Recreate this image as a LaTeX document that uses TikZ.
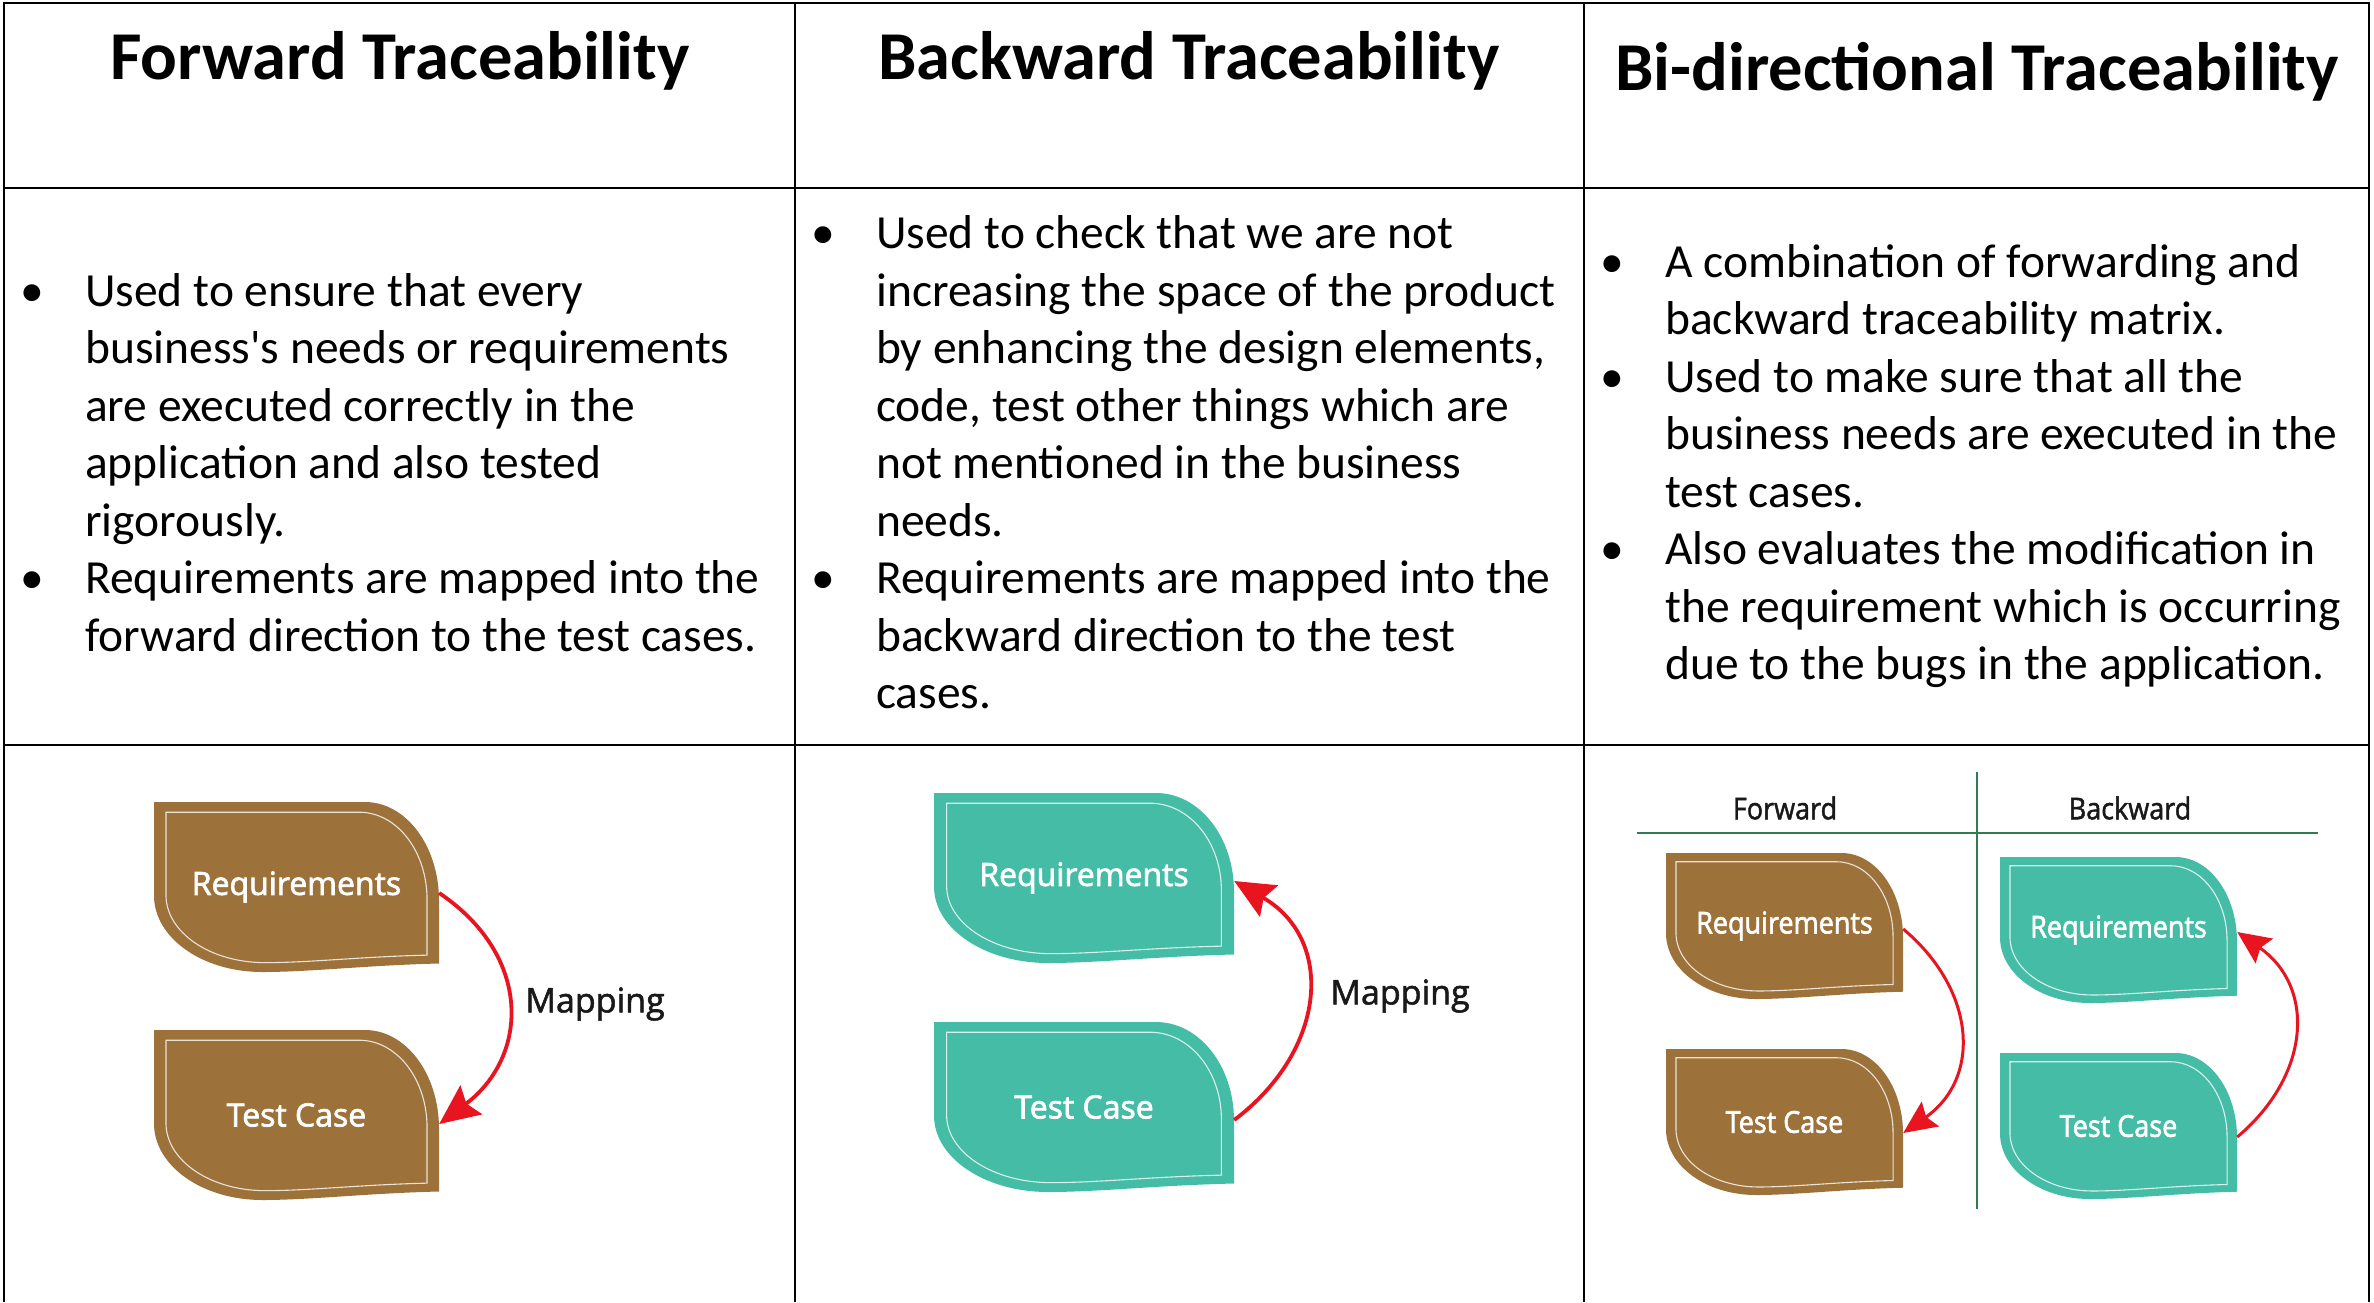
\documentclass[tikz,border=0pt]{standalone}
\usepackage{fontspec}
\setmainfont{Carlito}
\newfontfamily\lblfont{Open Sans}[FakeBold=2.2]
\newfontfamily\maplblfont{Open Sans}[FakeBold=1.6]
\usetikzlibrary{arrows.meta}
\definecolor{leafbrown}{HTML}{9D723A}
\definecolor{leafteal}{HTML}{45BDA6}
\definecolor{maparrow}{HTML}{E8141F}
\definecolor{divgreen}{HTML}{2E7D50}
\newcommand\narrowtxt[1]{\scalebox{0.9}[1]{#1}}
\tikzset{
  tableline/.style={line width=2.5pt, black},
  headtxt/.style={anchor=base, inner sep=0pt, font=\bfseries\fontsize{68.5}{80}\selectfont},
  celltxt/.style={anchor=west, inner sep=0pt, font=\fontsize{47.5}{57.5}\selectfont},
  leafbox/.style={rectangle, inner sep=0pt, text=white},
  biglbl/.style={font=\lblfont\fontsize{32}{38}\selectfont},
  smalllbl/.style={font=\lblfont\fontsize{30}{36}\selectfont},
  maplabel/.style={inner sep=0pt, text=black!90, font=\maplblfont\fontsize{34}{40}\selectfont},
  dirlabel/.style={inner sep=0pt, text=black!90, font=\maplblfont\fontsize{30}{36}\selectfont},
  bigmap/.style={maparrow, line width=3.8pt, -{Stealth[length=40pt,width=36pt,inset=6pt]}},
  smallmap/.style={maparrow, line width=3pt, -{Stealth[length=33pt,width=30pt,inset=5pt]}},
  greenline/.style={divgreen, line width=2.5pt},
}
% #1 name, #2 left, #3 top, #4 width, #5 height, #6 colour, #7 label style, #8 text
\newcommand\leaf[8]{%
  \begin{scope}[shift={(#2,#3)}, x=#4pt, y=-#5pt]
    \fill[#6] (0,0) -- (0.74,0) .. controls (0.885,0) and (1,0.26) .. (1,0.58)
      -- (1,0.95) .. controls (0.75,0.96) and (0.55,1) .. (0.38,1)
      .. controls (0.17,1) and (0,0.8) .. (0,0.55) -- cycle;
    \begin{scope}[shift={(0.042,0.06)}, xscale=0.916, yscale=0.885]
      \draw[white!80!#6, line width=1.1pt] (0,0) -- (0.74,0) .. controls (0.885,0) and (1,0.26) .. (1,0.58)
        -- (1,0.95) .. controls (0.75,0.96) and (0.55,1) .. (0.38,1)
        .. controls (0.17,1) and (0,0.8) .. (0,0.55) -- cycle;
    \end{scope}
  \end{scope}
  \node[leafbox, #7, minimum width=#4pt, minimum height=#5pt] (#1) at ({#2+#4/2},{#3+#5/2}) {#8};
}
\begin{document}
\begin{tikzpicture}[x=1pt, y=-1pt]
\useasboundingbox (0,0) rectangle (2374,1302);
\fill[white] (0,0) rectangle (2374,1302);
% table
\draw[tableline] (4,1302) -- (4,3) -- (2369,3) -- (2369,1302);
\draw[tableline] (795,3) -- (795,1302);
\draw[tableline] (1584,3) -- (1584,1302);
\draw[tableline] (4,188) -- (2369,188);
\draw[tableline] (4,745) -- (2369,745);
% headers
\node[headtxt] (h1) at (400,79) {Forward Traceability};
\node[headtxt] (h2) at (1189,79) {Backward Traceability};
\node[headtxt] (h3) at (1977,90) {Bi-directional Traceability};
% descriptions
\node[celltxt] (t1) at (20,467) {\begin{tabular}{@{}p{65pt}@{}l@{}}
\textbullet & Used to ensure that every\\
 & business\textquotesingle s needs or requirements\\
 & are executed correctly in the\\
 & application and also tested\\
 & rigorously.\\
\textbullet & Requirements are mapped into the\\
 & forward direction to the test cases.
\end{tabular}};
\node[celltxt] (t2) at (811,467) {\begin{tabular}{@{}p{65pt}@{}l@{}}
\textbullet & Used to check that we are not\\
 & increasing the space of the product\\
 & by enhancing the design elements,\\
 & code, test other things which are\\
 & not mentioned in the business\\
 & needs.\\
\textbullet & Requirements are mapped into the\\
 & backward direction to the test\\
 & cases.
\end{tabular}};
\node[celltxt] (t3) at (1600,467) {\begin{tabular}{@{}p{65pt}@{}l@{}}
\textbullet & A combination of forwarding and\\
 & backward traceability matrix.\\
\textbullet & Used to make sure that all the\\
 & business needs are executed in the\\
 & test cases.\\
\textbullet & Also evaluates the modification in\\
 & the requirement which is occurring\\
 & due to the bugs in the application.
\end{tabular}};
% column 1: forward
\leaf{fr}{154}{802}{285}{170}{leafbrown}{biglbl}{Requirements}
\leaf{ft}{154}{1030}{285}{170}{leafbrown}{biglbl}{Test Case}
\draw[bigmap] ([yshift=-6pt]fr.east) to[out=-34, in=37, looseness=1.25] ([yshift=-9pt]ft.east);
\node[maplabel] (m1) at (595,1004) {Mapping};
% column 2: backward
\leaf{br}{934}{793}{300}{170}{leafteal}{biglbl}{Requirements}
\leaf{bt}{934}{1022}{300}{170}{leafteal}{biglbl}{Test Case}
\draw[bigmap] ([yshift=-13pt]bt.east) to[out=37, in=-30, looseness=1.25] ([yshift=-3pt]br.east);
\node[maplabel] (m2) at (1400,996) {Mapping};
% column 3: bi-directional
\draw[greenline] (1977,772) -- (1977,1209);
\draw[greenline] (1637,833) -- (2318,833);
\node[dirlabel] (fw) at (1785,808) {\narrowtxt{Forward}};
\node[dirlabel] (bw) at (2130,808) {\narrowtxt{Backward}};
\leaf{cfr}{1666}{853}{237}{146}{leafbrown}{smalllbl}{\narrowtxt{Requirements}}
\leaf{cft}{1666}{1049}{237}{146}{leafbrown}{smalllbl}{\narrowtxt{Test Case}}
\leaf{cbr}{2000}{857}{237}{146}{leafteal}{smalllbl}{\narrowtxt{Requirements}}
\leaf{cbt}{2000}{1053}{237}{146}{leafteal}{smalllbl}{\narrowtxt{Test Case}}
\draw[smallmap] ([yshift=-3pt]cfr.east) to[out=-40, in=35, looseness=1.2] ([yshift=-11pt]cft.east);
\draw[smallmap] ([yshift=-11pt]cbt.east) to[out=40, in=-35, looseness=1.2] ([yshift=-2pt]cbr.east);
\end{tikzpicture}
\end{document}
